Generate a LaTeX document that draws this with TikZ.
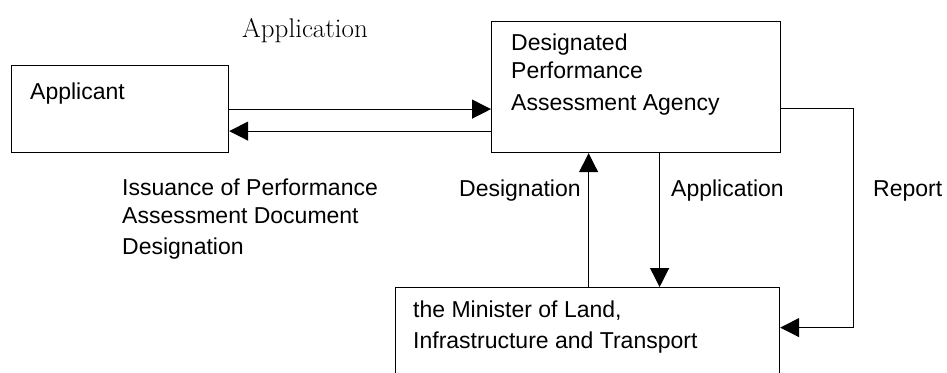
\documentclass[tikz,border=0pt]{standalone}
\usepackage{fontspec}
\newfontfamily\sansf{Liberation Sans}
\usetikzlibrary{arrows.meta,calc}
\tikzset{
  box/.style={draw,line width=1.2pt,rectangle,inner sep=0pt,anchor=north west},
  lbl/.style={anchor=base west,inner sep=0pt,font=\sansf\fontsize{23}{28}\selectfont,align=left},
  arr/.style={line width=1.2pt,-{Triangle[length=19pt,width=19pt]}}
}
\begin{document}
\begin{tikzpicture}[x=1pt,y=-1pt]
\clip (0,0) rectangle (947,372);
\fill[white] (0,0) rectangle (947,372);
% boxes
\node[box,minimum width=217pt,minimum height=87pt] (app) at (11,65) {};
\node[box,minimum width=289pt,minimum height=131pt] (agency) at (491,21) {};
\node[box,minimum width=384pt,minimum height=113pt] (min) at (395,287) {};
% box texts (anchored at the baseline of the last line)
\node[lbl] (tapp) at (30,99) {Applicant};
\node[lbl] (tagency) at (511,110) {Designated\\Performance\\[4pt]Assessment Agency};
\node[lbl] (tmin) at (413,348) {the Minister of Land,\\[3pt]Infrastructure and Transport};
% connector labels
\node[anchor=base west,inner sep=0pt,font=\fontsize{27}{30}\selectfont] (lapp1) at (242,37) {Application};
\node[lbl] (liss) at (122,254) {Issuance of Performance\\Assessment Document\\[3pt]Designation};
\node[lbl] (ldes) at (459,196) {Designation};
\node[lbl] (lapp2) at (671,196) {Application};
\node[lbl] (lrep) at (873,196) {Report};
% connectors
\draw[arr] (app.east) -- (app.east -| agency.west);
\draw[arr] ([yshift=-22pt]app.east -| agency.west) -- ([yshift=-22pt]app.east);
\draw[arr] ([xshift=-47.5pt]agency.south |- min.north) -- ([xshift=-47.5pt]agency.south);
\draw[arr] ([xshift=23.5pt]agency.south) -- ([xshift=23.5pt]agency.south |- min.north);
\draw[arr] ([yshift=-21.5pt]agency.east) -- ++(72,0) |- ([yshift=16.5pt]min.east);
\end{tikzpicture}
\end{document}
